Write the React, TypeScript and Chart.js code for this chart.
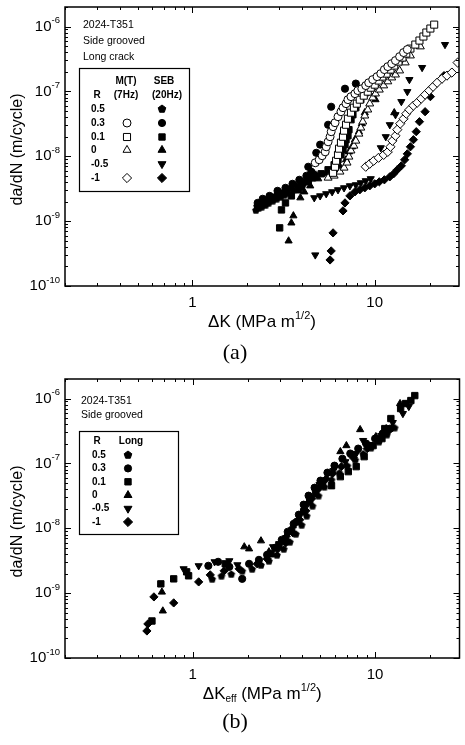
import React, { useEffect, useRef } from 'react';
import { Chart, registerables } from 'chart.js';
Chart.register(...registerables);

// ---------------- data : panel (a)  dK vs da/dN ----------------
const A_MT_R03_X = [4.72,4.96,5.15,5.35,5.42,5.55,5.69,5.77,5.91,6.06,6.29,6.53,6.70,6.96,7.13,7.41,7.79,8.08,8.50,8.93,9.27,9.75,10.3,10.8,11.3,11.8,12.4,13.0,13.7,14.4,15.1];
const A_MT_R03_Y = [7.94e-9,8.83e-9,1.02e-8,1.17e-8,1.40e-8,1.67e-8,2.00e-8,2.39e-8,2.86e-8,3.29e-8,4.07e-8,4.86e-8,5.61e-8,6.47e-8,7.46e-8,8.30e-8,9.23e-8,1.03e-7,1.10e-7,1.23e-7,1.36e-7,1.52e-7,1.69e-7,1.88e-7,2.17e-7,2.41e-7,2.68e-7,2.99e-7,3.44e-7,3.97e-7,4.42e-7];

const A_MT_R01_X = [5.91,6.06,6.14,6.29,6.37,6.53,6.70,6.79,6.96,7.13,7.41,7.69,7.98,8.28,8.71,9.16,9.51,10.0,10.5,11.0,11.6,12.2,12.8,13.5,14.2,14.9,15.7,16.7,17.6,18.5,19.2,20.2,21.2];
const A_MT_R01_Y = [5.56e-9,6.89e-9,8.53e-9,1.05e-8,1.31e-8,1.62e-8,2.00e-8,2.48e-8,3.06e-8,3.79e-8,4.70e-8,5.61e-8,6.47e-8,7.46e-8,8.60e-8,9.91e-8,1.14e-7,1.27e-7,1.47e-7,1.69e-7,1.88e-7,2.17e-7,2.50e-7,2.88e-7,3.32e-7,3.83e-7,4.57e-7,5.27e-7,6.08e-7,7.01e-7,8.08e-7,9.31e-7,1.07e-6];

const A_MT_R0_X = [5.55,5.99,6.45,6.79,7.05,7.22,7.41,7.69,7.88,8.19,8.39,8.60,8.82,9.16,9.39,9.75,10.1,10.6,11.2,11.8,12.4,13.0,13.7,14.7,15.7,17.8];
const A_MT_R0_Y = [4.65e-9,5.0e-9,5.77e-9,6.64e-9,7.94e-9,9.82e-9,1.22e-8,1.45e-8,1.73e-8,2.22e-8,2.75e-8,3.41e-8,4.22e-8,5.22e-8,6.47e-8,8.00e-8,9.23e-8,1.06e-7,1.23e-7,1.42e-7,1.63e-7,1.81e-7,2.09e-7,2.78e-7,3.56e-7,4.91e-7];

const A_MT_RM1_X = [8.93,9.39,9.88,10.5,11.2,11.8,12.2,12.5,13.0,13.3,13.8,14.4,14.9,15.5,16.3,17.1,18.0,18.9,19.9,20.9,22.0,23.4,24.9,26.5,28.5];
const A_MT_RM1_Y = [6.89e-9,7.66e-9,8.53e-9,9.48e-9,1.05e-8,1.17e-8,1.40e-8,1.73e-8,2.07e-8,2.57e-8,3.18e-8,3.79e-8,4.53e-8,5.22e-8,6.03e-8,6.70e-8,7.73e-8,8.91e-8,1.03e-7,1.18e-7,1.36e-7,1.57e-7,1.75e-7,1.95e-7,2.78e-7];

const A_SEB_R05_X = [2.23,2.26,2.31,2.37,2.40,2.46,2.52,2.56,2.62,2.69,2.76,2.83,2.90,2.97,3.05,3.12,3.20,3.28,3.37,3.45,3.58,3.68,3.82,3.91,4.06,4.17,4.32,4.43,4.60,4.72];
const A_SEB_R05_Y = [1.49e-9,1.72e-9,1.60e-9,1.85e-9,1.66e-9,1.98e-9,1.78e-9,2.13e-9,1.91e-9,2.21e-9,2.06e-9,2.45e-9,2.21e-9,2.64e-9,2.37e-9,2.83e-9,2.54e-9,3.04e-9,2.73e-9,3.26e-9,3.04e-9,3.63e-9,3.38e-9,3.90e-9,3.76e-9,4.34e-9,4.19e-9,4.82e-9,4.65e-9,5.37e-9];

const A_SEB_R03_X = [2.28,2.43,2.65,2.93,3.24,3.54,3.86,4.22,4.49,4.32,4.78,5.02,5.55,5.77,6.87,7.88];
const A_SEB_R03_Y = [1.91e-9,2.21e-9,2.45e-9,2.93e-9,3.26e-9,3.76e-9,4.34e-9,5.0e-9,5.77e-9,6.89e-9,1.13e-8,1.51e-8,3.06e-8,5.8e-8,1.10e-7,1.32e-7];

const A_SEB_R01_X = [3.01,3.08,3.24,3.49,3.82,3.96,4.32,4.72,5.09,5.55,5.99,6.29,6.53,6.70,6.87,6.96,7.13,7.22,7.41,7.59,7.88,8.39,8.93];
const A_SEB_R01_Y = [7.87e-10,1.49e-9,1.91e-9,2.45e-9,3.04e-9,3.38e-9,4.04e-9,4.82e-9,5.37e-9,6.19e-9,7.39e-9,8.83e-9,1.05e-8,1.26e-8,1.51e-8,1.80e-8,2.07e-8,2.57e-8,3.66e-8,4.37e-8,5.61e-8,7.46e-8,9.57e-8];

const A_SEB_R0_X = [3.37,3.49,3.58,3.91,4.11,4.43,4.90,5.42,5.99,6.45,6.96,7.22,7.50,7.79,8.19,8.50,8.82,10.1,12.8];
const A_SEB_R0_Y = [4.96e-10,9.39e-10,1.21e-9,2.29e-9,2.83e-9,3.50e-9,4.50e-9,5.37e-9,6.19e-9,6.89e-9,8.83e-9,1.17e-8,1.40e-8,1.80e-8,2.39e-8,3.18e-8,4.70e-8,7.46e-8,4.70e-8];

const A_SEB_RM05_X = [4.72,4.66,5.02,5.42,5.84,6.29,6.79,7.31,7.88,8.39,8.93,9.51,10.8,11.5,12.1,13.0,14.0,15.1,15.5,18.2,24.3];
const A_SEB_RM05_Y = [3.01e-10,2.29e-9,2.45e-9,2.64e-9,2.83e-9,3.04e-9,3.26e-9,3.50e-9,3.63e-9,3.90e-9,4.19e-9,4.50e-9,1.35e-8,2.00e-8,3.06e-8,4.37e-8,6.95e-8,9.91e-8,1.52e-7,2.33e-7,5.27e-7];

const A_SEB_RM1_X = [5.69,5.77,5.91,6.70,6.87,7.31,7.79,8.28,8.82,9.39,10.0,10.6,11.3,12.1,12.7,13.3,14.0,14.6,15.1,15.7,16.3,16.9,17.6,18.9,20.2,24.0];
const A_SEB_RM1_Y = [2.52e-10,3.47e-10,6.59e-10,1.44e-9,1.91e-9,2.45e-9,2.83e-9,3.04e-9,3.26e-9,3.50e-9,3.76e-9,4.04e-9,4.34e-9,4.82e-9,5.37e-9,6.19e-9,7.13e-9,8.83e-9,1.09e-8,1.40e-8,1.80e-8,2.39e-8,3.41e-8,4.86e-8,8.30e-8,1.75e-7];

// ---------------- data : panel (b)  dKeff vs da/dN ----------------
const B_R05_X = [1.28,1.44,1.63,1.87,2.12,2.37,2.62,2.90,3.16,3.41,3.68,3.96,4.22,4.54,4.90,5.28,5.77,6.37,7.05,7.79,8.60,9.51,10.5,11.6,12.8];
const B_R05_Y = [1.66e-9,1.85e-9,1.98e-9,2.21e-9,2.37e-9,2.73e-9,3.15e-9,3.90e-9,4.82e-9,6.19e-9,8.23e-9,1.13e-8,1.56e-8,2.22e-8,3.18e-8,4.37e-8,5.61e-8,7.20e-8,9.23e-8,1.14e-7,1.42e-7,1.75e-7,2.17e-7,2.78e-7,3.56e-7];

const B_R03_X = [1.22,1.38,1.59,1.87,2.04,2.31,2.56,2.83,3.08,3.32,3.58,3.82,4.06,4.32,4.66,5.02,5.48,5.99,6.62,7.31,8.08,8.93,10.0,11.0,12.1];
const B_R03_Y = [2.64e-9,3.04e-9,2.54e-9,1.66e-9,2.83e-9,3.26e-9,3.90e-9,5.00e-9,6.64e-9,8.83e-9,1.17e-8,1.62e-8,2.31e-8,3.18e-8,4.22e-8,5.42e-8,7.20e-8,9.23e-8,1.18e-7,1.42e-7,1.69e-7,2.02e-7,2.41e-7,2.88e-7,3.44e-7];

const B_R01_X = [0.599,0.670,0.788,0.928,0.951,1.51,2.69,2.97,3.24,3.49,3.77,4.06,4.38,4.72,5.15,5.77,6.45,7.13,7.88,8.71,9.75,10.9,11.3,12.2,13.8,14.7,15.7,16.5];
const B_R01_Y = [3.72e-10,1.39e-9,1.66e-9,2.13e-9,1.85e-9,2.83e-9,4.04e-9,5.56e-9,6.89e-9,9.14e-9,1.26e-8,1.80e-8,2.57e-8,3.41e-8,4.53e-8,4.53e-8,6.24e-8,7.46e-8,8.91e-8,1.27e-7,1.88e-7,2.41e-7,3.44e-7,4.91e-7,7.01e-7,8.37e-7,9.31e-7,1.11e-6];

const B_R0_X = [0.679,0.687,1.92,2.04,2.37,2.62,3.01,3.28,3.54,3.82,4.11,4.78,5.42,6.45,6.96,8.28,10.1,11.5,13.7];
const B_R0_Y = [1.04e-9,5.32e-10,5.18e-9,4.82e-9,6.41e-9,4.34e-9,5.97e-9,7.94e-9,1.09e-8,1.45e-8,2.07e-8,4.07e-8,6.03e-8,1.52e-7,1.88e-7,3.32e-7,2.59e-7,3.44e-7,8.37e-7];

const B_RM05_X = [0.893,1.08,1.32,1.59,1.76,2.76,3.20,3.72,4.27,4.96,5.91,6.87,7.88,8.60,9.27,10.8,12.5,14.2,15.3];
const B_RM05_Y = [2.37e-9,2.64e-9,3.04e-9,3.15e-9,2.73e-9,5.18e-9,6.64e-9,1.26e-8,2.39e-8,4.70e-8,7.73e-8,1.06e-7,1.42e-7,2.25e-7,1.95e-7,2.68e-7,4.26e-7,5.86e-7,7.52e-7];

const B_RM1_X = [0.562,0.569,0.614,0.788,1.08,1.25,1.49,1.80,2.26,2.56,2.93,3.24,3.54,3.86,4.17,4.49,4.84,5.28,5.84,6.53,7.59,9.05,10.4,11.9];
const B_RM1_Y = [2.61e-10,3.35e-10,8.75e-10,7.07e-10,1.49e-9,1.91e-9,2.21e-9,2.37e-9,2.83e-9,3.38e-9,4.82e-9,5.97e-9,8.53e-9,1.35e-8,1.86e-8,2.86e-8,3.93e-8,5.42e-8,6.95e-8,8.91e-8,1.23e-7,1.69e-7,2.33e-7,3.21e-7];

// ---------------- labels / ticks ----------------
const R_LABELS = ['0.5', '0.3', '0.1', '0', '-0.5', '-1'];
const Y_TICK_VALUES = [1e-10, 1e-9, 1e-8, 1e-7, 1e-6];
const Y_TICK_EXPONENTS = ['-10', '-9', '-8', '-7', '-6'];
const X_TICK_VALUES = [1, 10];
const X_TICK_LABELS = ['1', '10'];
const X_MIN = 0.2, X_MAX = 29, Y_MIN = 1e-10, Y_MAX = 2e-6;
const HEADER_A = ['2024-T351', 'Side grooved', 'Long crack'];
const HEADER_B = ['2024-T351', 'Side grooved'];

type Kind = 'circle' | 'rect' | 'triangle' | 'down' | 'rectRot' | 'pentagon';
const KIND_BY_R: Kind[] = ['pentagon', 'circle', 'rect', 'triangle', 'down', 'rectRot'];
const RADIUS: Record<Kind, number> = { circle: 4, rect: 5, triangle: 4.6, down: 4.6, rectRot: 4.6, pentagon: 4 };

const SANS = '"Liberation Sans", Arial, Helvetica, sans-serif';

interface Series { x: number[]; y: number[]; kind: Kind; open: boolean; }

const SERIES_A: Series[] = [
  { x: A_MT_R03_X, y: A_MT_R03_Y, kind: 'circle', open: true },
  { x: A_MT_R01_X, y: A_MT_R01_Y, kind: 'rect', open: true },
  { x: A_MT_R0_X, y: A_MT_R0_Y, kind: 'triangle', open: true },
  { x: A_MT_RM1_X, y: A_MT_RM1_Y, kind: 'rectRot', open: true },
  { x: A_SEB_R03_X, y: A_SEB_R03_Y, kind: 'circle', open: false },
  { x: A_SEB_R05_X, y: A_SEB_R05_Y, kind: 'pentagon', open: false },
  { x: A_SEB_R01_X, y: A_SEB_R01_Y, kind: 'rect', open: false },
  { x: A_SEB_R0_X, y: A_SEB_R0_Y, kind: 'triangle', open: false },
  { x: A_SEB_RM05_X, y: A_SEB_RM05_Y, kind: 'down', open: false },
  { x: A_SEB_RM1_X, y: A_SEB_RM1_Y, kind: 'rectRot', open: false },
];

const SERIES_B: Series[] = [
  { x: B_R05_X, y: B_R05_Y, kind: 'pentagon', open: false },
  { x: B_R03_X, y: B_R03_Y, kind: 'circle', open: false },
  { x: B_R01_X, y: B_R01_Y, kind: 'rect', open: false },
  { x: B_R0_X, y: B_R0_Y, kind: 'triangle', open: false },
  { x: B_RM05_X, y: B_RM05_Y, kind: 'down', open: false },
  { x: B_RM1_X, y: B_RM1_Y, kind: 'rectRot', open: false },
];

function polyPath(g: CanvasRenderingContext2D, cx: number, cy: number, r: number, n: number, start: number) {
  g.beginPath();
  for (let i = 0; i < n; i++) {
    const a = start + (i * 2 * Math.PI) / n;
    const px = cx + Math.cos(a) * r, py = cy + Math.sin(a) * r;
    if (i === 0) g.moveTo(px, py); else g.lineTo(px, py);
  }
  g.closePath();
}

function makePentagon(r: number) {
  const c = document.createElement('canvas');
  const s = Math.ceil(2 * r + 2);
  c.width = s; c.height = s;
  const g = c.getContext('2d')!;
  polyPath(g, s / 2, s / 2 + 0.4, r, 5, -Math.PI / 2);
  g.fillStyle = '#000';
  g.fill();
  return c;
}

function drawMarker(g: CanvasRenderingContext2D, kind: Kind, x: number, y: number, open: boolean) {
  const r = RADIUS[kind];
  switch (kind) {
    case 'circle': g.beginPath(); g.arc(x, y, open ? r : r * 0.9, 0, Math.PI * 2); break;
    case 'rect': { const s = r * Math.SQRT1_2 * (open ? 1 : 0.9); g.beginPath(); g.rect(x - s, y - s, 2 * s, 2 * s); break; }
    case 'triangle': polyPath(g, x, y, r, 3, -Math.PI / 2); break;
    case 'down': polyPath(g, x, y, r, 3, Math.PI / 2); break;
    case 'rectRot': polyPath(g, x, y, r, 4, -Math.PI / 2); break;
    case 'pentagon': polyPath(g, x, y, r, 5, -Math.PI / 2); break;
  }
  g.fillStyle = open ? '#fff' : '#000';
  g.fill();
  g.strokeStyle = '#000';
  g.lineWidth = 1;
  g.stroke();
}

interface Part { t: string; size: number; dy?: number; bold?: boolean; }
function drawRich(g: CanvasRenderingContext2D, parts: Part[], x: number, y: number, align: 'left' | 'center' | 'right') {
  g.textBaseline = 'middle';
  g.textAlign = 'left';
  const w = parts.map(p => { g.font = `${p.bold ? 'bold ' : ''}${p.size}px ${SANS}`; return g.measureText(p.t).width; });
  const total = w.reduce((a, b) => a + b, 0);
  let cx = align === 'center' ? x - total / 2 : align === 'right' ? x - total : x;
  parts.forEach((p, i) => {
    g.font = `${p.bold ? 'bold ' : ''}${p.size}px ${SANS}`;
    g.fillText(p.t, cx, y + (p.dy || 0));
    cx += w[i];
  });
}

interface LegendCol { x: number; kinds: (Kind | null)[]; open: boolean; }
interface PanelCfg {
  id: string;
  series: Series[];
  header: string[];
  headerX: number; headerY: number[];
  box: [number, number, number, number];
  heads: { t: string; x: number; y: number }[];
  rowX: number; rowY: number[];
  cols: LegendCol[];
  xTitle: Part[];
}

const PANEL_A: PanelCfg = {
  id: 'a', series: SERIES_A, header: HEADER_A, headerX: 83, headerY: [25, 41, 57],
  box: [79, 68, 189, 191],
  heads: [{ t: 'M(T)', x: 126, y: 81 }, { t: 'SEB', x: 164, y: 81 }, { t: 'R', x: 97, y: 95 }, { t: '(7Hz)', x: 126, y: 95 }, { t: '(20Hz)', x: 167, y: 95 }],
  rowX: 91, rowY: [109, 123, 137, 150, 164, 178],
  cols: [
    { x: 127, kinds: [null, 'circle', 'rect', 'triangle', null, 'rectRot'], open: true },
    { x: 162, kinds: KIND_BY_R, open: false },
  ],
  xTitle: [{ t: '\u0394K (MPa m', size: 17 }, { t: '1/2', size: 11, dy: -6 }, { t: ')', size: 17 }],
};

const PANEL_B: PanelCfg = {
  id: 'b', series: SERIES_B, header: HEADER_B, headerX: 81, headerY: [29, 43],
  box: [79, 59, 178, 162],
  heads: [{ t: 'R', x: 97, y: 69 }, { t: 'Long', x: 131, y: 69 }],
  rowX: 92, rowY: [83, 96.4, 109.8, 123.2, 136.6, 150],
  cols: [{ x: 128, kinds: KIND_BY_R, open: false }],
  xTitle: [{ t: '\u0394K', size: 17 }, { t: 'eff', size: 10, dy: 5 }, { t: ' (MPa m', size: 17 }, { t: '1/2', size: 11, dy: -6 }, { t: ')', size: 17 }],
};

function makeFramePlugin(cfg: PanelCfg) {
  return {
    id: 'frame_' + cfg.id,
    afterDatasetsDraw(chart: any) {
      const g: CanvasRenderingContext2D = chart.ctx;
      const { left, right, top, bottom } = chart.chartArea;
      const xs = chart.scales.x, ys = chart.scales.y;
      g.save();
      g.strokeStyle = '#000';
      g.fillStyle = '#000';
      // frame
      g.lineWidth = 1.5;
      g.strokeRect(left, top, right - left, bottom - top);
      // ticks
      g.lineWidth = 1;
      g.beginPath();
      for (let e = -10; e <= -6; e++) {
        for (let k = 1; k <= 9; k++) {
          const v = k * Math.pow(10, e);
          if (v < Y_MIN * 0.999 || v > Y_MAX) continue;
          const p = Math.round(ys.getPixelForValue(v)) + 0.5;
          const len = k === 1 ? 6 : 3;
          g.moveTo(left, p); g.lineTo(left + len, p);
          g.moveTo(right, p); g.lineTo(right - len, p);
        }
      }
      for (let e = -1; e <= 1; e++) {
        for (let k = 1; k <= 9; k++) {
          const v = k * Math.pow(10, e);
          if (v < X_MIN * 0.999 || v > X_MAX) continue;
          const p = Math.round(xs.getPixelForValue(v)) + 0.5;
          const len = k === 1 ? 6 : 3;
          g.moveTo(p, bottom); g.lineTo(p, bottom - len);
          g.moveTo(p, top); g.lineTo(p, top + len);
        }
      }
      g.stroke();
      // y tick labels
      Y_TICK_VALUES.forEach((v, i) => {
        const p = ys.getPixelForValue(v);
        drawRich(g, [{ t: '10', size: 15 }, { t: Y_TICK_EXPONENTS[i], size: 9.5, dy: -6 }], left - 5, p, 'right');
      });
      // x tick labels
      X_TICK_VALUES.forEach((v, i) => {
        const p = xs.getPixelForValue(v);
        drawRich(g, [{ t: X_TICK_LABELS[i], size: 15 }], p, bottom + 17, 'center');
      });
      // axis titles
      drawRich(g, cfg.xTitle, (left + right) / 2, bottom + 36, 'center');
      g.save();
      g.translate(18, (top + bottom) / 2 + 3);
      g.rotate(-Math.PI / 2);
      drawRich(g, [{ t: 'da/dN (m/cycle)', size: 16 }], 0, 0, 'center');
      g.restore();
      // header text
      cfg.header.forEach((t, i) => drawRich(g, [{ t, size: 10.5 }], cfg.headerX, cfg.headerY[i], 'left'));
      // legend box
      const [bx0, by0, bx1, by1] = cfg.box;
      g.fillStyle = '#fff';
      g.fillRect(bx0, by0, bx1 - bx0, by1 - by0);
      g.fillStyle = '#000';
      g.lineWidth = 1.2;
      g.strokeRect(bx0 + 0.5, by0 + 0.5, bx1 - bx0, by1 - by0);
      cfg.heads.forEach(h => drawRich(g, [{ t: h.t, size: 10, bold: true }], h.x, h.y, 'center'));
      R_LABELS.forEach((t, i) => {
        drawRich(g, [{ t, size: 10, bold: true }], cfg.rowX, cfg.rowY[i], 'left');
        cfg.cols.forEach(c => {
          const k = c.kinds[i];
          if (k) drawMarker(g, k, c.x, cfg.rowY[i], c.open);
        });
      });
      g.restore();
    },
  };
}

function buildConfig(cfg: PanelCfg, pent: HTMLCanvasElement): any {
  const datasets = cfg.series.map(s => ({
    data: s.x.map((v, i) => ({ x: v, y: s.y[i] })),
    pointStyle: s.kind === 'pentagon' ? pent : s.kind === 'down' ? 'triangle' : s.kind,
    pointRotation: s.kind === 'down' ? 180 : 0,
    pointRadius: s.open ? RADIUS[s.kind] : RADIUS[s.kind] * 0.9,
    pointBackgroundColor: s.open ? '#fff' : '#000',
    pointBorderColor: '#000',
    pointBorderWidth: 1,
    showLine: false,
  }));
  return {
    type: 'scatter',
    data: { datasets },
    options: {
      responsive: false,
      animation: false,
      devicePixelRatio: 1,
      events: [],
      layout: { padding: { top: 7, right: 2, left: 0, bottom: 0 } },
      plugins: { legend: { display: false }, tooltip: { enabled: false } },
      scales: {
        x: {
          type: 'logarithmic', min: X_MIN, max: X_MAX, position: 'bottom',
          ticks: { display: false }, grid: { display: false }, border: { display: false },
          afterFit: (s: any) => { s.height = 54; },
        },
        y: {
          type: 'logarithmic', min: Y_MIN, max: Y_MAX, position: 'left',
          ticks: { display: false }, grid: { display: false }, border: { display: false },
          afterFit: (s: any) => { s.width = 65; },
        },
      },
    },
    plugins: [makeFramePlugin(cfg)],
  };
}

const captionStyle = (top: number): React.CSSProperties => ({
  position: 'absolute', left: 235, top, transform: 'translate(-50%, -50%)',
  font: '22px "Liberation Serif", "Times New Roman", serif', lineHeight: 1, color: '#000',
});

export default function App() {
  const refA = useRef<HTMLCanvasElement>(null);
  const refB = useRef<HTMLCanvasElement>(null);
  useEffect(() => {
    const pent = makePentagon(4);
    const chA = new Chart(refA.current!, buildConfig(PANEL_A, pent));
    const chB = new Chart(refB.current!, buildConfig(PANEL_B, pent));
    return () => { chA.destroy(); chB.destroy(); };
  }, []);
  return (
    <div style={{ position: 'absolute', left: 0, top: 0, width: 465, height: 745, background: '#fff', overflow: 'hidden' }}>
      <canvas ref={refA} width={465} height={340} style={{ position: 'absolute', left: 0, top: 0, width: 465, height: 340 }} />
      <div style={captionStyle(352)}>(a)</div>
      <canvas ref={refB} width={465} height={340} style={{ position: 'absolute', left: 0, top: 372, width: 465, height: 340 }} />
      <div style={captionStyle(721)}>(b)</div>
    </div>
  );
}
